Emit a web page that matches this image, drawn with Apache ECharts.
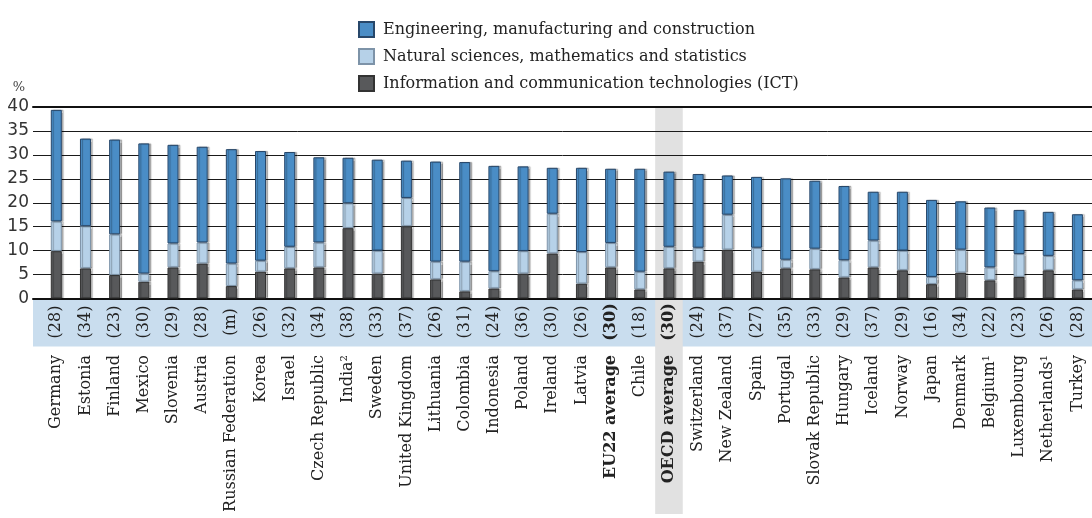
<!DOCTYPE html>
<html>
<head>
<meta charset="utf-8">
<script src="https://cdn.jsdelivr.net/npm/echarts@6/dist/echarts.min.js"></script>
<style>
  html, body { margin: 0; padding: 0; background: #ffffff; }
  #chart { width: 1092px; height: 518px; }
</style>
</head>
<body>
<div id="chart"></div>
<script>
// Share of new entrants by STEM field (%), stacked; counts in parentheses under each country.
const categories = [
  'Germany', 'Estonia', 'Finland', 'Mexico', 'Slovenia', 'Austria', 'Russian Federation',
  'Korea', 'Israel', 'Czech Republic', 'India²', 'Sweden', 'United Kingdom', 'Lithuania',
  'Colombia', 'Indonesia', 'Poland', 'Ireland', 'Latvia', 'EU22 average', 'Chile',
  'OECD average', 'Switzerland', 'New Zealand', 'Spain', 'Portugal', 'Slovak Republic',
  'Hungary', 'Iceland', 'Norway', 'Japan', 'Denmark', 'Belgium¹', 'Luxembourg',
  'Netherlands¹', 'Turkey'
];

const counts = [
  '28', '34', '23', '30', '29', '28', 'm', '26', '32', '34', '38', '33', '37', '26',
  '31', '24', '36', '30', '26', '30', '18', '30', '24', '37', '27', '35', '33',
  '29', '37', '29', '16', '34', '22', '23', '26', '28'
];

const ict = [
  9.9, 6.3, 4.9, 3.5, 6.5, 7.3, 2.6, 5.6, 6.3, 6.5, 14.7, 5.2, 15.1, 4.0,
  1.5, 2.1, 5.2, 9.4, 3.1, 6.5, 1.9, 6.3, 7.7, 10.2, 5.6, 6.3, 6.1,
  4.4, 6.5, 5.9, 3.0, 5.4, 3.8, 4.5, 5.9, 1.9
];

const naturalSciences = [
  6.2, 8.8, 8.5, 1.7, 5.0, 4.4, 4.7, 2.3, 4.5, 5.2, 5.2, 4.8, 5.9, 3.7,
  6.2, 3.6, 4.7, 8.3, 6.6, 5.1, 3.7, 4.5, 2.9, 7.3, 5.0, 1.8, 4.3,
  3.6, 5.6, 4.1, 1.5, 4.8, 2.7, 4.8, 3.0, 1.9
];

const engineering = [
  23.3, 18.3, 19.8, 27.2, 20.6, 20.0, 23.9, 22.9, 19.8, 17.8, 9.5, 19.0, 7.8, 20.9,
  20.8, 22.0, 17.7, 9.6, 17.6, 15.5, 21.5, 15.7, 15.4, 8.2, 14.8, 17.0, 14.2,
  15.5, 10.2, 12.3, 16.1, 10.1, 12.5, 9.2, 9.2, 13.8
];

const yTicks = { min: 0, max: 40, interval: 5 };

const seriesNames = {
  eng: 'Engineering, manufacturing and construction',
  nat: 'Natural sciences, mathematics and statistics',
  ict: 'Information and communication technologies (ICT)'
};

const highlighted = ['EU22 average', 'OECD average'];
const oecdIndex = categories.indexOf('OECD average');

const serif = 'DejaVu Serif';
const textColor = '#222222';

const chart = echarts.init(document.getElementById('chart'), null, { renderer: 'canvas' });

const barShadow = {
  shadowColor: 'rgba(0,0,0,0.28)',
  shadowBlur: 1,
  shadowOffsetX: 2,
  shadowOffsetY: 0
};

function boldIfAverage(text, index) {
  return highlighted.includes(categories[index]) ? '{b|' + text + '}' : '{n|' + text + '}';
}

const richLabel = {
  n: { fontFamily: serif, fontSize: 16, color: textColor },
  b: { fontFamily: serif, fontSize: 16, color: textColor, fontWeight: 'bold' }
};

chart.setOption({
  animation: false,
  backgroundColor: '#ffffff',
  textStyle: { fontFamily: serif, color: textColor },
  legend: {
    orient: 'vertical',
    left: 353,
    top: 16,
    icon: 'rect',
    itemWidth: 15,
    itemHeight: 15,
    itemGap: 10,
    data: [seriesNames.eng, seriesNames.nat, seriesNames.ict],
    textStyle: { fontFamily: serif, fontSize: 16, color: textColor, padding: [0, 0, 0, 4] },
    selectedMode: false
  },
  grid: [
    // value grid: gridlines, y labels, baseline and top rule
    { left: 33, right: 0, top: 107, height: 191.5, z: 2 },
    // bar grid: categories
    { left: 41.7, width: 1055.2, top: 107, height: 191.5, z: 3 },
    // shaded strip behind the counts
    { left: 33, right: 0, top: 299.5, height: 47, show: true, backgroundColor: '#c9ddee', borderWidth: 0, z: 0 }
  ],
  xAxis: [
    {
      gridIndex: 0, type: 'value', position: 'bottom', min: 0, max: 1, z: 2,
      axisLine: { show: true, lineStyle: { color: '#111111', width: 2 } },
      axisTick: { show: false }, axisLabel: { show: false }, splitLine: { show: false }
    },
    {
      gridIndex: 0, type: 'value', position: 'top', min: 0, max: 1, z: 2,
      axisLine: { show: true, lineStyle: { color: '#111111', width: 2 } },
      axisTick: { show: false }, axisLabel: { show: false }, splitLine: { show: false }
    },
    {
      gridIndex: 1, type: 'category', position: 'bottom', data: categories, z: 4,
      axisLine: { show: false }, axisTick: { show: false },
      axisLabel: {
        interval: 0, rotate: 90, margin: 56.5,
        formatter: (v, i) => boldIfAverage(v, i),
        rich: richLabel
      }
    },
    {
      gridIndex: 1, type: 'category', position: 'bottom', data: categories, z: 4,
      axisLine: { show: false }, axisTick: { show: false },
      axisLabel: {
        interval: 0, rotate: 90, margin: 23.5, align: 'center',
        formatter: (v, i) => boldIfAverage('(' + counts[i] + ')', i),
        rich: richLabel
      }
    },
    { gridIndex: 2, type: 'value', show: false }
  ],
  yAxis: [
    {
      gridIndex: 0, type: 'value', min: yTicks.min, max: yTicks.max, interval: yTicks.interval, z: 2,
      name: '%', nameLocation: 'end', nameGap: 13,
      nameTextStyle: { fontFamily: serif, fontSize: 13, color: '#444444', align: 'right', padding: [0, 8, 0, 0] },
      axisLine: { show: false }, axisTick: { show: false },
      axisLabel: { margin: 4, fontFamily: 'DejaVu Sans', fontSize: 17, color: '#333333' },
      splitLine: { show: true, lineStyle: { color: '#1a1a1a', width: 1 } }
    },
    { gridIndex: 1, type: 'value', min: yTicks.min, max: yTicks.max, show: false },
    { gridIndex: 2, type: 'value', show: false }
  ],
  series: [
    {
      // grey column marking the OECD average, running down through the labels
      type: 'custom',
      xAxisIndex: 2, yAxisIndex: 1,
      z: 1, clip: false, silent: true,
      data: [[oecdIndex, yTicks.max]],
      renderItem: function (params, api) {
        const top = api.coord([api.value(0), api.value(1)]);
        const band = api.size([1, 0])[0];
        const w = band * 0.945;
        const bottom = api.getHeight() - 4;
        return {
          type: 'rect',
          shape: { x: top[0] - w / 2, y: top[1], width: w, height: bottom - top[1] },
          style: { fill: '#e1e1e1' }
        };
      }
    },
    {
      name: seriesNames.ict, type: 'bar', stack: 'stem', xAxisIndex: 2, yAxisIndex: 1,
      z: 3, barWidth: 11, data: ict,
      itemStyle: Object.assign({ color: '#58595b', borderColor: '#333333', borderWidth: 1 }, barShadow)
    },
    {
      name: seriesNames.nat, type: 'bar', stack: 'stem', xAxisIndex: 2, yAxisIndex: 1,
      z: 3, barWidth: 11, data: naturalSciences,
      itemStyle: Object.assign({ color: '#b6d1e8', borderColor: '#7d93a8', borderWidth: 1 }, barShadow)
    },
    {
      name: seriesNames.eng, type: 'bar', stack: 'stem', xAxisIndex: 2, yAxisIndex: 1,
      z: 3, barWidth: 11, data: engineering,
      itemStyle: Object.assign({ color: '#4a8dc6', borderColor: '#27476a', borderWidth: 1 }, barShadow)
    }
  ]
});
</script>
</body>
</html>
